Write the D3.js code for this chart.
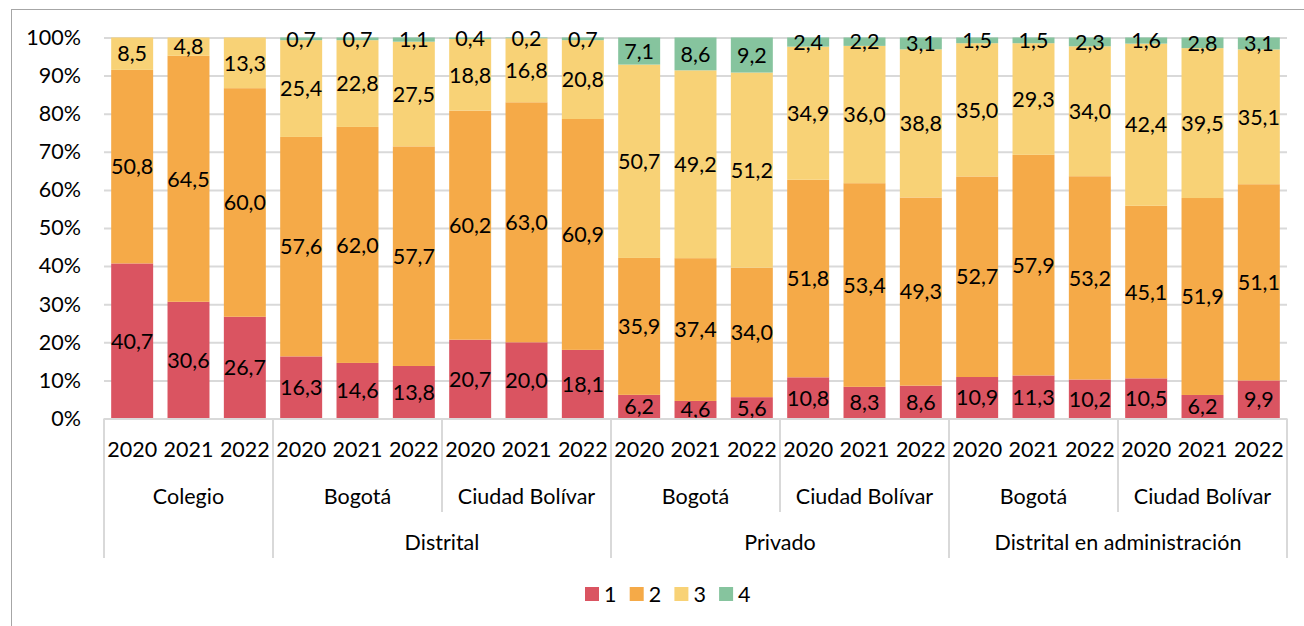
<!DOCTYPE html>
<html>
<head>
<meta charset="utf-8">
<script src="https://cdn.jsdelivr.net/npm/d3@7"></script>
<style>
   body { margin: 0; background: #fff; }
   text { font-family: Lato, "Open Sans", sans-serif; fill: #000; }
</style>
</head>
<body>
<div class="bar-chart-container"></div>
<script>
// chart values
const years = ['2020', '2021', '2022'];
const groups = ['Colegio', 'Bogotá', 'Ciudad Bolívar', 'Bogotá', 'Ciudad Bolívar', 'Bogotá', 'Ciudad Bolívar'];
const sectors = ['', 'Distrital', 'Privado', 'Distrital en administración'];
const sector_span = [1, 2, 2, 2]; // number of groups under each sector
const series_names = ['1', '2', '3', '4'];
const s1 = [40.7, 30.6, 26.7, 16.3, 14.6, 13.8, 20.7, 20.0, 18.1, 6.2, 4.6, 5.6, 10.8, 8.3, 8.6, 10.9, 11.3, 10.2, 10.5, 6.2, 9.9];
const s2 = [50.8, 64.5, 60.0, 57.6, 62.0, 57.7, 60.2, 63.0, 60.9, 35.9, 37.4, 34.0, 51.8, 53.4, 49.3, 52.7, 57.9, 53.2, 45.1, 51.9, 51.1];
const s3 = [8.5, 4.8, 13.3, 25.4, 22.8, 27.5, 18.8, 16.8, 20.8, 50.7, 49.2, 51.2, 34.9, 36.0, 38.8, 35.0, 29.3, 34.0, 42.4, 39.5, 35.1];
const s4 = [0, 0, 0, 0.7, 0.7, 1.1, 0.4, 0.2, 0.7, 7.1, 8.6, 9.2, 2.4, 2.2, 3.1, 1.5, 1.5, 2.3, 1.6, 2.8, 3.1];
const y_ticks = [0, 0.1, 0.2, 0.3, 0.4, 0.5, 0.6, 0.7, 0.8, 0.9, 1];

const colors = ['#DA5461', '#F5AA48', '#F8D276', '#86C49E'];
const es = d3.formatLocale({decimal: ',', thousands: '.', grouping: [3], currency: ['', '']});
const fmt = es.format('.1f');
const FS = '21.5px';

function build_rows() {
   const rows = [];
   groups.forEach((g, gi) => {
      years.forEach((y, yi) => {
         const i = gi * 3 + yi;
         rows.push({key: i, year: y, '1': s1[i], '2': s2[i], '3': s3[i], '4': s4[i]});
      });
   });
   return rows;
}

function build_chart() {
   const W = 1304, H = 626;
   const plot = {left: 104, right: 1287, top: 37.5, bottom: 418.5};
   const rows = build_rows();

   const svg = d3.select('.bar-chart-container')
      .append('svg')
      .attr('width', W)
      .attr('height', H);

   // outer frame
   svg.append('rect')
      .attr('x', 11.5).attr('y', 9.5)
      .attr('width', W).attr('height', H)
      .attr('fill', 'none')
      .attr('stroke', '#A6A6A6');

   const xScale = d3.scaleBand()
      .domain(rows.map(d => d.key))
      .range([plot.left, plot.right])
      .paddingInner(0.255)
      .paddingOuter(0.1275);

   const yScale = d3.scaleLinear()
      .domain([0, 1])
      .range([plot.bottom, plot.top]);

   // grid + y labels
   const yAxis = d3.axisLeft(yScale)
      .tickValues(y_ticks)
      .tickFormat(d3.format('.0%'))
      .tickSize(-(plot.right - plot.left))
      .tickPadding(23);
   const yg = svg.append('g')
      .attr('transform', `translate(${plot.left},0)`)
      .call(yAxis);
   yg.select('.domain').remove();
   yg.selectAll('line').attr('stroke', '#D9D9D9').attr('stroke-width', 2);
   yg.selectAll('text').style('font-size', FS).attr('fill', '#000');

   const stack = d3.stack()
      .keys(series_names)
      .offset(d3.stackOffsetExpand);
   const layers = stack(rows);

   const layer = svg.selectAll('.layer')
      .data(layers)
      .enter()
      .append('g')
      .attr('class', 'layer')
      .attr('fill', (d, i) => colors[i]);

   layer.selectAll('rect')
      .data(d => d)
      .enter()
      .append('rect')
      .attr('x', d => xScale(d.data.key))
      .attr('y', d => yScale(d[1]))
      .attr('width', xScale.bandwidth())
      .attr('height', d => yScale(d[0]) - yScale(d[1]));

   // data labels
   layers.forEach(l => {
      svg.append('g')
         .selectAll('text')
         .data(l.filter(d => d.data[l.key] > 0))
         .enter()
         .append('text')
         .attr('x', d => xScale(d.data.key) + xScale.bandwidth() / 2)
         .attr('y', d => yScale((d[0] + d[1]) / 2))
         .attr('dy', '0.36em')
         .attr('text-anchor', 'middle')
         .style('font-size', FS)
         .text(d => fmt(d.data[l.key]));
   });

   // category axis
   const axis = svg.append('g').attr('stroke', '#D9D9D9').attr('stroke-width', 2);
   axis.append('line')
      .attr('x1', plot.left).attr('x2', plot.right)
      .attr('y1', plot.bottom + 0.5).attr('y2', plot.bottom + 0.5);

   svg.append('g')
      .selectAll('text')
      .data(rows)
      .enter()
      .append('text')
      .attr('x', d => xScale(d.key) + xScale.bandwidth() / 2)
      .attr('y', 457)
      .attr('text-anchor', 'middle')
      .style('font-size', FS)
      .text(d => d.year);

   const step = xScale.step();
   const group_x = gi => plot.left + gi * 3 * step;

   svg.append('g')
      .selectAll('text')
      .data(groups)
      .enter()
      .append('text')
      .attr('x', (d, gi) => group_x(gi) + 1.5 * step)
      .attr('y', 504)
      .attr('text-anchor', 'middle')
      .style('font-size', FS)
      .text(d => d);

   // sector labels and separators
   let start = 0;
   const long_lines = [0];
   sectors.forEach((s, si) => {
      const end = start + sector_span[si];
      svg.append('text')
         .attr('x', (group_x(start) + group_x(end)) / 2)
         .attr('y', 550)
         .attr('text-anchor', 'middle')
         .style('font-size', FS)
         .text(s);
      long_lines.push(end);
      start = end;
   });

   for (let gi = 0; gi <= groups.length; gi++) {
      const is_long = long_lines.includes(gi);
      axis.append('line')
         .attr('x1', group_x(gi)).attr('x2', group_x(gi))
         .attr('y1', plot.bottom)
         .attr('y2', is_long ? 558 : 512);
   }

   // legend
   const legend = svg.append('g')
      .attr('transform', 'translate(585,587)');
   const item = legend.selectAll('g')
      .data(series_names)
      .enter()
      .append('g')
      .attr('transform', (d, i) => `translate(${i * 44.7},0)`);
   item.append('rect')
      .attr('width', 14).attr('height', 14)
      .attr('fill', (d, i) => colors[i]);
   item.append('text')
      .attr('x', 19).attr('y', 14.5)
      .style('font-size', FS)
      .text(d => d);
}

build_chart();
</script>
</body>
</html>
